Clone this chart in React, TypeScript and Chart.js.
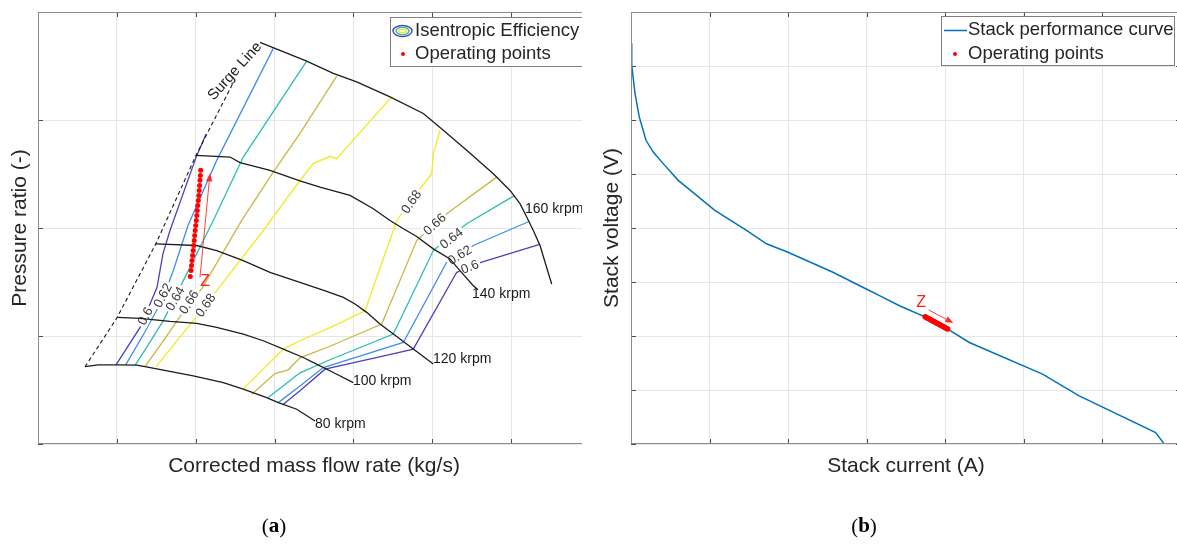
import React, { useEffect, useRef } from 'react';
import { Chart, registerables } from 'chart.js';

Chart.register(...registerables);

const SANS = '"Liberation Sans", Arial, Helvetica, sans-serif';
const SERIF = '"Liberation Serif", "Times New Roman", serif';
const TEXT = '#262626';

// ---------------- (a) Compressor map (axes carry no tick labels) ----------------
const speed80 = [[0.596,0.717],[0.765,0.733],[0.989,0.733],[1.252,0.730],[1.357,0.717],[1.589,0.684],[1.969,0.631],[2.350,0.569],[2.603,0.508],[2.900,0.430],[3.047,0.383],[3.281,0.322],[3.513,0.213]];
const speed100 = [[1.006,1.172],[1.293,1.163],[1.674,1.135],[2.013,1.116],[2.266,1.079],[2.603,1.018],[2.857,0.956],[3.111,0.879],[3.364,0.801],[3.551,0.733],[3.745,0.662],[3.998,0.569]];
const speed120 = [[1.493,1.853],[2.013,1.838],[2.266,1.791],[2.603,1.698],[2.942,1.590],[3.322,1.497],[3.661,1.414],[3.872,1.358],[4.020,1.297],[4.168,1.219],[4.337,1.111],[4.506,1.018],[4.759,0.879],[5.013,0.740]];
const speed140 = [[2.000,2.673],[2.435,2.657],[2.562,2.605],[2.942,2.534],[3.322,2.436],[3.576,2.379],[3.957,2.302],[4.252,2.178],[4.464,2.070],[4.629,1.995],[4.802,1.921],[5.013,1.807],[5.224,1.714],[5.351,1.606],[5.520,1.466],[5.580,1.429]];
const speed160 = [[2.815,3.719],[3.407,3.545],[3.745,3.431],[4.041,3.353],[4.464,3.214],[4.886,3.060],[5.140,2.905],[5.436,2.719],[5.774,2.503],[5.986,2.348],[6.112,2.225],[6.201,2.097],[6.281,1.977],[6.366,1.838],[6.514,1.482]];
const surgeLine = [[0.596,0.715],[1.002,1.169],[1.496,1.856],[2.004,2.673],[2.473,3.341]];

const eff060Left = [[0.989,0.733],[1.293,1.077],[1.509,1.448],[1.585,1.763],[1.674,1.977],[2.004,2.654],[2.130,2.867]];
const eff062Left = [[1.112,0.733],[1.357,1.039],[1.589,1.355],[1.716,1.606],[1.902,2.023],[2.266,2.626],[2.984,3.663]];
const eff064Left = [[1.234,0.733],[1.378,0.894],[1.589,1.142],[1.843,1.513],[2.223,2.070],[2.603,2.657],[3.407,3.545]];
const eff066Left = [[1.357,0.717],[1.589,0.956],[1.801,1.179],[2.076,1.436],[2.583,2.070],[2.984,2.518],[3.322,2.877],[3.788,3.406]];
const eff068Left = [[1.496,0.717],[1.969,1.142],[2.266,1.420],[2.857,1.977],[3.322,2.441],[3.491,2.596],[3.703,2.664],[3.788,2.642],[4.485,3.214]];
const eff068Right = [[2.603,0.508],[3.111,0.879],[3.322,0.956],[3.703,1.077],[4.147,1.234],[4.549,2.070],[4.730,2.255],[4.993,2.503],[5.013,2.689],[5.098,2.905]];
const eff066Right = [[2.710,0.461],[3.005,0.652],[3.174,0.687],[3.322,0.798],[3.703,0.905],[4.359,1.111],[4.802,1.884],[5.183,2.132],[5.817,2.471]];
const eff064Right = [[2.920,0.430],[3.322,0.659],[3.703,0.780],[4.506,1.018],[5.013,1.791],[5.436,2.039],[6.036,2.297]];
const eff062Right = [[3.047,0.383],[3.322,0.538],[3.618,0.708],[4.632,0.940],[5.183,1.683],[5.520,1.838],[6.226,2.060]];
const eff060Right = [[3.111,0.369],[3.322,0.492],[3.640,0.693],[4.485,0.832],[4.759,0.879],[5.310,1.590],[5.627,1.683],[6.353,1.847]];

const effLevels = ['0.6', '0.62', '0.64', '0.66', '0.68'];
const effColors = ['#4f3fbf', '#3f8ef2', '#2dbdb2', '#c8b842', '#f2ea1e'];

const effLabelText = ['0.6', '0.62', '0.64', '0.66', '0.68', '0.68', '0.66', '0.64', '0.62', '0.6'];
const effLabelPos = [[1.366,1.181],[1.589,1.374],[1.746,1.343],[1.919,1.311],[2.130,1.281],[4.739,2.239],[5.034,2.032],[5.246,1.900],[5.351,1.745],[5.478,1.636]];
const effLabelAngle = [-62, -62, -60, -58, -55, -55, -42, -38, -32, -22];

const speedLabelText = ['80 krpm', '100 krpm', '120 krpm', '140 krpm', '160 krpm'];
const speedLabelPos = [[3.513,0.186],[3.995,0.585],[5.009,0.789],[5.504,1.392],[6.176,2.172]];

const opPointsMap = [[2.063,2.534],[2.059,2.487],[2.054,2.441],[2.049,2.394],[2.044,2.348],[2.039,2.302],[2.033,2.255],[2.026,2.209],[2.020,2.162],[2.014,2.116],[2.007,2.070],[2.000,2.023],[1.993,1.977],[1.987,1.930],[1.981,1.884],[1.974,1.838],[1.968,1.791],[1.961,1.745],[1.953,1.698],[1.947,1.652],[1.941,1.606],[1.931,1.550]];
const arrowMap = [[2.054,1.541],[2.181,2.506]];
const zLabelMap = [2.118, 1.503];
const surgeLabelPos = [2.498, 3.452];

// ---------------- (b) Stack polarization curve ----------------
const stackCurve = [[0,7.419],[0.009,7.016],[0.051,6.491],[0.105,6.057],[0.191,5.624],[0.283,5.407],[0.410,5.192],[0.601,4.882],[0.835,4.603],[1.067,4.325],[1.470,3.954],[1.724,3.707],[1.998,3.551],[2.570,3.180],[2.994,2.871],[3.163,2.747],[3.417,2.561],[3.756,2.344],[4.031,2.129],[4.306,1.880],[5.238,1.294],[5.704,0.891],[6.678,0.210],[6.783,0.006]];
const opPointsStack = [[3.743,2.356],[3.757,2.345],[3.770,2.334],[3.784,2.324],[3.798,2.313],[3.812,2.302],[3.825,2.291],[3.839,2.280],[3.853,2.270],[3.866,2.259],[3.880,2.248],[3.894,2.237],[3.907,2.226],[3.921,2.216],[3.935,2.205],[3.949,2.194],[3.962,2.183],[3.976,2.172],[3.990,2.162],[4.003,2.151],[4.017,2.140],[4.031,2.129]];
const arrowStack = [[3.789,2.482],[4.103,2.241]];
const zLabelStack = [3.693, 2.623];

// ---------------- helpers ----------------
const toXY = (arr: number[][]) => arr.map(([x, y]) => ({ x, y }));

function drawFrame(chart: any) {
  const { ctx, chartArea: a, scales } = chart;
  ctx.save();
  ctx.lineWidth = 1;
  ctx.strokeStyle = '#4d4d4d';
  const tl = 5;
  ctx.beginPath();
  for (const t of scales.x.ticks) {
    const px = Math.round(scales.x.getPixelForValue(t.value)) + 0.5;
    ctx.moveTo(px, a.bottom); ctx.lineTo(px, a.bottom - tl);
    ctx.moveTo(px, a.top); ctx.lineTo(px, a.top + tl);
  }
  for (const t of scales.y.ticks) {
    const py = Math.round(scales.y.getPixelForValue(t.value)) + 0.5;
    ctx.moveTo(a.left, py); ctx.lineTo(a.left + tl, py);
    ctx.moveTo(a.right, py); ctx.lineTo(a.right - tl, py);
  }
  ctx.stroke();
  ctx.strokeStyle = '#8c8c8c';
  ctx.strokeRect(Math.round(a.left) + 0.5, Math.round(a.top) + 0.5, Math.round(a.right - a.left) - 1, Math.round(a.bottom - a.top) - 1);
  ctx.restore();
}

function rotText(ctx: CanvasRenderingContext2D, text: string, x: number, y: number, deg: number, font: string, color: string, bg: boolean, align: CanvasTextAlign = 'center') {
  ctx.save();
  ctx.translate(x, y);
  ctx.rotate((deg * Math.PI) / 180);
  ctx.font = font;
  ctx.textAlign = align;
  ctx.textBaseline = 'middle';
  if (bg) {
    const w = ctx.measureText(text).width;
    ctx.fillStyle = '#ffffff';
    ctx.fillRect(-w / 2 - 2, -6, w + 4, 12);
  }
  ctx.fillStyle = color;
  ctx.fillText(text, 0, 0);
  ctx.restore();
}

function drawArrow(chart: any, pts: number[][], color: string) {
  const { ctx, scales } = chart;
  const x1 = scales.x.getPixelForValue(pts[0][0]);
  const y1 = scales.y.getPixelForValue(pts[0][1]);
  const x2 = scales.x.getPixelForValue(pts[1][0]);
  const y2 = scales.y.getPixelForValue(pts[1][1]);
  const ang = Math.atan2(y2 - y1, x2 - x1);
  const len = 8, hw = 3.2;
  ctx.save();
  ctx.strokeStyle = color;
  ctx.fillStyle = color;
  ctx.lineWidth = 0.9;
  ctx.beginPath();
  ctx.moveTo(x1, y1);
  ctx.lineTo(x2 - Math.cos(ang) * len * 0.6, y2 - Math.sin(ang) * len * 0.6);
  ctx.stroke();
  const bx = x2 - Math.cos(ang) * len, by = y2 - Math.sin(ang) * len;
  ctx.beginPath();
  ctx.moveTo(x2, y2);
  ctx.lineTo(bx + Math.sin(ang) * hw, by - Math.cos(ang) * hw);
  ctx.lineTo(bx - Math.sin(ang) * hw, by + Math.cos(ang) * hw);
  ctx.closePath();
  ctx.fill();
  ctx.restore();
}

function drawPanelTag(ctx: CanvasRenderingContext2D, letter: string, cx: number, cy: number) {
  ctx.save();
  ctx.textBaseline = 'middle';
  ctx.fillStyle = '#000';
  const fN = `21px ${SERIF}`, fB = `bold 21px ${SERIF}`;
  ctx.font = fN; const w1 = ctx.measureText('(').width; const w3 = ctx.measureText(')').width;
  ctx.font = fB; const w2 = ctx.measureText(letter).width;
  let x = cx - (w1 + w2 + w3) / 2;
  ctx.textAlign = 'left';
  ctx.font = fN; ctx.fillText('(', x, cy); x += w1;
  ctx.font = fB; ctx.fillText(letter, x, cy); x += w2;
  ctx.font = fN; ctx.fillText(')', x, cy);
  ctx.restore();
}

const scaleCfg = (min: number, max: number, title: string, padding: any) => ({
  type: 'linear' as const,
  min,
  max,
  ticks: { display: false, stepSize: 1 },
  grid: { color: '#e6e6e6', drawTicks: false, lineWidth: 1 },
  border: { display: false },
  title: { display: true, text: title, color: TEXT, font: { family: SANS, size: 21, lineHeight: 1 }, padding },
});

const lineDs = (data: number[][], color: string, width: number, order: number, dash: number[] = []) => ({
  data: toXY(data),
  showLine: true,
  borderColor: color,
  backgroundColor: color,
  borderWidth: width,
  borderDash: dash,
  pointRadius: 0,
  pointHoverRadius: 0,
  tension: 0,
  order,
});

// ---------------- left chart ----------------
const leftDecor = {
  id: 'leftDecor',
  afterDatasetDraw(chart: any, args: any) {
    if (args.index !== 0) return; // last contour drawn -> put clabels on top of contours
    const { ctx, scales } = chart;
    effLabelText.forEach((t, i) => {
      const [x, y] = effLabelPos[i];
      rotText(ctx, t, scales.x.getPixelForValue(x), scales.y.getPixelForValue(y), effLabelAngle[i], `13px ${SANS}`, '#3a3a3a', true);
    });
  },
  afterDraw(chart: any) {
    const { ctx, scales } = chart;
    drawFrame(chart);
    speedLabelText.forEach((t, i) => {
      const [x, y] = speedLabelPos[i];
      rotText(ctx, t, scales.x.getPixelForValue(x), scales.y.getPixelForValue(y), 0, `14px ${SANS}`, '#1a1a1a', false, 'left');
    });
    rotText(ctx, 'Surge Line', scales.x.getPixelForValue(surgeLabelPos[0]), scales.y.getPixelForValue(surgeLabelPos[1]), -48, `15px ${SANS}`, '#1a1a1a', false);
    drawArrow(chart, arrowMap, '#ff2a2a');
    rotText(ctx, 'Z', scales.x.getPixelForValue(zLabelMap[0]), scales.y.getPixelForValue(zLabelMap[1]), 0, `16px ${SANS}`, '#ff2020', false);
    // legend
    ctx.save();
    ctx.fillStyle = '#fff';
    ctx.strokeStyle = '#7f7f7f';
    ctx.lineWidth = 1;
    ctx.fillRect(390.5, 17.5, 200, 49);
    ctx.strokeRect(390.5, 17.5, 200, 49);
    const ell = [[9.5, 5.5, effColors[0]], [6.5, 3.6, effColors[2]], [3.6, 1.8, effColors[4]]] as any[];
    ell.forEach(([rx, ry, c]) => {
      ctx.beginPath();
      ctx.ellipse(402.5, 31, rx, ry, 0, 0, Math.PI * 2);
      ctx.strokeStyle = c; ctx.lineWidth = 1.4; ctx.stroke();
    });
    ctx.beginPath(); ctx.arc(403, 54, 2, 0, Math.PI * 2); ctx.fillStyle = '#ff0000'; ctx.fill();
    ctx.fillStyle = TEXT; ctx.font = `18.5px ${SANS}`; ctx.textBaseline = 'middle'; ctx.textAlign = 'left';
    ctx.fillText('Isentropic Efficiency', 415, 31);
    ctx.fillText('Operating points', 415, 54);
    ctx.restore();
    drawPanelTag(ctx, 'a', 274, 527);
  },
};

function LeftChart() {
  const ref = useRef<HTMLCanvasElement>(null);
  useEffect(() => {
    if (!ref.current) return;
    const contours = [
      [eff060Left, 0], [eff062Left, 1], [eff064Left, 2], [eff066Left, 3], [eff068Left, 4],
      [eff068Right, 4], [eff066Right, 3], [eff064Right, 2], [eff062Right, 1], [eff060Right, 0],
    ] as any[];
    const datasets: any[] = contours.map(([d, li]) => ({ label: `η = ${effLevels[li]}`, ...lineDs(d, effColors[li], 1.3, 3) }));
    datasets.push({ label: 'Surge Line', ...lineDs(surgeLine, '#1a1a1a', 1.1, 2, [4, 3]) });
    [speed80, speed100, speed120, speed140, speed160].forEach((d, i) => datasets.push({ label: speedLabelText[i], ...lineDs(d, '#1c1c1c', 1.3, 2) }));
    datasets.push({
      label: 'Operating points',
      data: toXY(opPointsMap),
      showLine: false,
      pointRadius: 2.5,
      pointBorderWidth: 0,
      pointBackgroundColor: '#ff0000',
      pointHoverRadius: 0,
      order: 1,
    });
    const chart = new Chart(ref.current, {
      type: 'scatter',
      data: { datasets },
      options: {
        animation: false,
        responsive: false,
        events: [],
        layout: { padding: { left: 0, right: 10, top: 12, bottom: 68 } },
        scales: {
          x: scaleCfg(0, 7, 'Corrected mass flow rate (kg/s)', { top: 12, bottom: 0 }),
          y: scaleCfg(0, 4, 'Pressure ratio (-)', { top: 9.5, bottom: 7.5 }),
        },
        plugins: { legend: { display: false }, tooltip: { enabled: false } },
      },
      plugins: [leftDecor],
    } as any);
    return () => chart.destroy();
  }, []);
  return <canvas ref={ref} width={600} height={545} style={{ display: 'block' }} />;
}

// ---------------- right chart ----------------
const rightDecor = {
  id: 'rightDecor',
  afterDraw(chart: any) {
    const { ctx, scales } = chart;
    drawFrame(chart);
    drawArrow(chart, arrowStack, '#ff2a2a');
    rotText(ctx, 'Z', scales.x.getPixelForValue(zLabelStack[0]), scales.y.getPixelForValue(zLabelStack[1]), 0, `16px ${SANS}`, '#ff2020', false);
    ctx.save();
    ctx.fillStyle = '#fff';
    ctx.strokeStyle = '#7f7f7f';
    ctx.lineWidth = 1;
    ctx.fillRect(351.5, 16.5, 233, 49);
    ctx.strokeRect(351.5, 16.5, 233, 49);
    ctx.beginPath(); ctx.moveTo(354, 30.5); ctx.lineTo(377, 30.5); ctx.strokeStyle = '#0072BD'; ctx.lineWidth = 1.5; ctx.stroke();
    ctx.beginPath(); ctx.arc(365, 54, 2, 0, Math.PI * 2); ctx.fillStyle = '#ff0000'; ctx.fill();
    ctx.fillStyle = TEXT; ctx.font = `18.5px ${SANS}`; ctx.textBaseline = 'middle'; ctx.textAlign = 'left';
    ctx.fillText('Stack performance curve', 378, 30);
    ctx.fillText('Operating points', 378, 54);
    ctx.restore();
    drawPanelTag(ctx, 'b', 274, 527);
  },
};

function RightChart() {
  const ref = useRef<HTMLCanvasElement>(null);
  useEffect(() => {
    if (!ref.current) return;
    const chart = new Chart(ref.current, {
      type: 'scatter',
      data: {
        datasets: [
          {
            label: 'Operating points',
            data: toXY(opPointsStack),
            showLine: false,
            pointRadius: 2.7,
            pointBorderWidth: 0,
            pointBackgroundColor: '#ff0000',
            pointHoverRadius: 0,
            order: 1,
          },
          { label: 'Stack performance curve', ...lineDs(stackCurve, '#0072BD', 1.5, 2) },
        ],
      },
      options: {
        animation: false,
        responsive: false,
        events: [],
        layout: { padding: { left: 0, right: 10, top: 12, bottom: 68 } },
        scales: {
          x: scaleCfg(0, 7, 'Stack current (A)', { top: 12, bottom: 0 }),
          y: scaleCfg(0, 8, 'Stack voltage (V)', { top: 11.5, bottom: 8.5 }),
        },
        plugins: { legend: { display: false }, tooltip: { enabled: false } },
      },
      plugins: [rightDecor],
    } as any);
    return () => chart.destroy();
  }, []);
  return <canvas ref={ref} width={601} height={545} style={{ display: 'block' }} />;
}

export default function App() {
  return (
    <div style={{ position: 'absolute', left: 0, top: 0, width: 1177, height: 545, overflow: 'hidden', background: '#fff' }}>
      <div style={{ position: 'absolute', left: 0, top: 0, width: 582, height: 545, overflow: 'hidden' }}>
        <LeftChart />
      </div>
      <div style={{ position: 'absolute', left: 590, top: 0, width: 587, height: 545, overflow: 'hidden' }}>
        <RightChart />
      </div>
    </div>
  );
}
